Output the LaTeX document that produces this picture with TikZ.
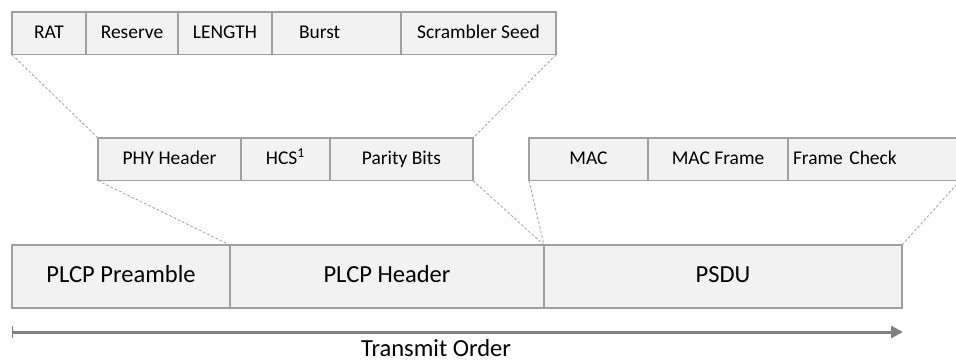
\documentclass[tikz,border=0pt]{standalone}
\usepackage{fontspec}
\setmainfont{Carlito}
\usepackage{tikz}
\usetikzlibrary{arrows.meta, positioning}
\definecolor{boxfill}{RGB}{242,242,242}
\definecolor{boxline}{RGB}{160,160,160}
\definecolor{ordergray}{RGB}{128,128,128}

\begin{document}
\begin{tikzpicture}[
    font=\fontsize{14.6}{17}\selectfont,
    field/.style={rectangle, draw=boxline, fill=boxfill, line width=0.9pt, outer sep=0pt, inner sep=0pt, minimum height=32pt, text height=10pt, text depth=3pt},
    bigfield/.style={field, minimum height=47.25pt, font=\fontsize{18.4}{22}\selectfont, text height=12.5pt, text depth=3.5pt},
    fanline/.style={draw=boxline, line width=0.6pt, dash pattern=on 2pt off 1.5pt},
]
    \useasboundingbox (0,0) rectangle (717pt,-271.5pt);
    \clip (0,0) rectangle (717pt,-271.5pt);

    % PHY header fields
    \node[field, minimum width=55.5pt, anchor=north west] (rat) at (9pt,-9pt) {RAT};
    \node[field, minimum width=69pt, right=0pt of rat] (reserve) {Reserve};
    \node[field, minimum width=70.5pt, right=0pt of reserve] (length) {LENGTH};
    \node[field, minimum width=96.75pt, text width=56.25pt, align=left, right=0pt of length] (burst) {Burst};
    \node[field, minimum width=116.25pt, right=0pt of burst] (seed) {Scrambler Seed};

    % PLCP header fields
    \node[field, minimum width=107.25pt, anchor=north west] (phy) at (73.5pt,-103.5pt) {PHY Header};
    \node[field, minimum width=66.75pt, right=0pt of phy] (hcs) {HCS\textsuperscript{1}};
    \node[field, minimum width=107.25pt, right=0pt of hcs] (parity) {Parity Bits};

    % PSDU fields
    \node[field, minimum width=89.25pt, anchor=north west] (mac) at (396.75pt,-103.5pt) {MAC};
    \node[field, minimum width=105pt, right=0pt of mac] (macframe) {MAC Frame};
    \node[field, minimum width=129pt, text width=121.5pt, align=left, right=0pt of macframe] (fcs) {Frame Check};

    % PPDU
    \node[bigfield, minimum width=163.5pt, anchor=north west] (preamble) at (9pt,-183.75pt) {PLCP Preamble};
    \node[bigfield, minimum width=235.5pt, right=0pt of preamble] (plcphdr) {PLCP Header};
    \node[bigfield, minimum width=268.5pt, right=0pt of plcphdr] (psdu) {PSDU};

    \draw[fanline] (rat.south west) -- (phy.north west);
    \draw[fanline] (seed.south east) -- (parity.north east);
    \draw[fanline] (phy.south west) -- (plcphdr.north west);
    \draw[fanline] (parity.south east) -- (psdu.north west);
    \draw[fanline] (mac.south west) -- (psdu.north west);
    \draw[fanline] (fcs.south east) -- (psdu.north east);

    % transmit order
    \coordinate (tx0) at (9pt,-249pt);
    \coordinate (tx1) at (677.25pt,-249pt);
    \draw[ordergray, line width=2.25pt, {Bar[width=9pt, line width=1pt]}-{Triangle[length=9pt, width=9pt]}] (tx0) -- (tx1);
    \node[font=\fontsize{18.4}{22}\selectfont, inner sep=0pt] (order) at (327pt,-261pt) {Transmit Order};
\end{tikzpicture}
\end{document}
